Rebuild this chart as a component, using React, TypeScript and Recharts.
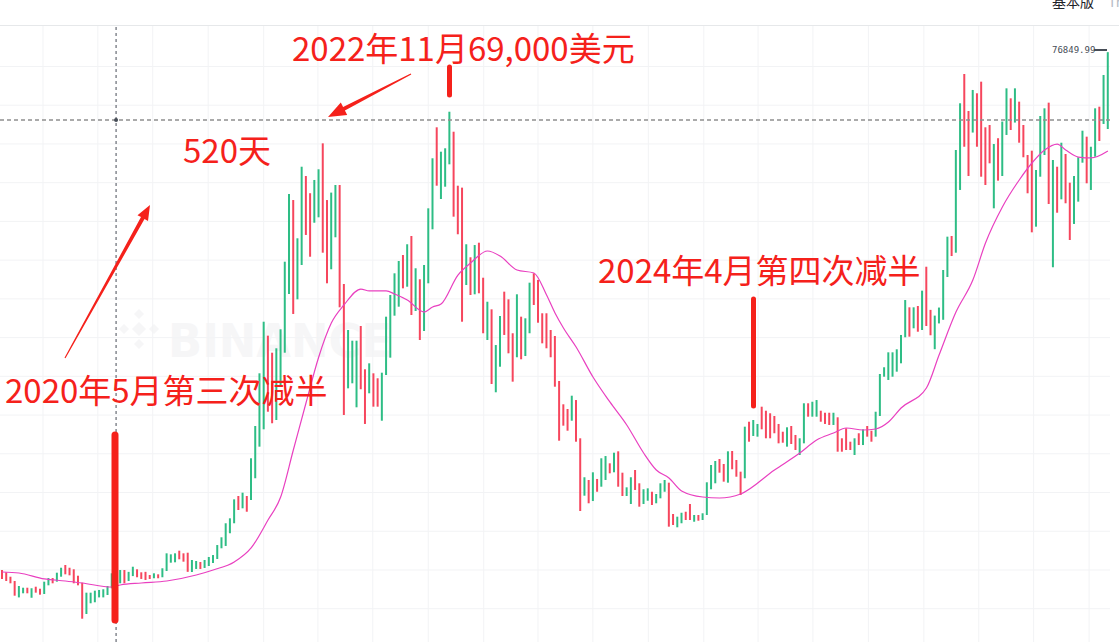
import {
  Bar,
  CartesianGrid,
  Cell,
  ComposedChart,
  Line,
  ReferenceDot,
  ReferenceLine,
  XAxis,
  YAxis,
} from "recharts";

// weekly BTC/USDT candles, first week opens 2019-10-28
const START = Date.UTC(2019, 9, 28);
const WEEK = 7 * 24 * 3600 * 1000;

const opens = [
  10000, 9700, 9130, 8580, 6460, 6990, 7710, 6410, 7840, 7580,
  6900, 8020, 8960, 8490, 9130, 10640, 10290, 10090, 9260, 8360,
  4320, 5700, 5830, 6460, 6460, 6770, 7630, 10000, 8280, 10000,
  8580, 9210, 10090, 9700, 9760, 9350, 8930, 9440, 9060, 9870,
  10940, 10990, 12490, 12150, 12230, 9740, 10130, 11030, 10260, 10510,
  10900, 11420, 12800, 13100, 14740, 16030, 19550, 17960, 19550, 19030,
  21840, 25920, 28160, 40250, 38050, 29360, 33660, 38050, 45630, 57760,
  44940, 49370, 60860, 58640, 54830, 55530, 65080, 57760, 48820, 52950,
  59700, 46920, 33450, 34100, 31000, 41500, 35910, 32810, 35390, 34750,
  29270, 35170, 37410, 42830, 43990, 50660, 46570, 53120, 43430, 47530,
  40850, 47010, 53980, 67150, 57890, 59480, 62370, 66580, 59610, 59360,
  46790, 50370, 45590, 52250, 47730, 39690, 43650, 32940, 36240, 45930,
  44940, 40560, 37460, 42700, 37620, 40560, 48300, 47440, 43140, 43140,
  40980, 40210, 34400, 31390, 30780, 29270, 31940, 27000, 19590, 21620,
  18900, 21750, 20750, 21620, 23770, 22610, 25320, 22560, 19550, 18520,
  22910, 21190, 18520, 18940, 20100, 18610, 19250, 20100, 21270, 17230,
  15510, 16030, 17520, 18520, 16230, 17100, 16450, 17100, 20420, 21190,
  24330, 23680, 21270, 25360, 24200, 22690, 21840, 29140, 27300, 27210,
  31080, 30560, 30230, 29880, 28850, 27850, 25920, 28590, 27430, 24840,
  26350, 31520, 29790, 29790, 30560, 30300, 30300, 28720, 29710, 27000,
  28290, 26560, 24840, 27650, 26130, 28590, 27980, 27210, 29880, 34950,
  34530, 34950, 35600, 36680, 40040, 43910, 41200, 44080, 40980, 49150,
  43580, 38500, 41830, 42300, 47820, 53120, 50960, 59060, 74030, 69250,
  66470, 71540, 73040, 67150, 67450, 56690, 65740, 60860, 66160, 70890,
  67760, 70460, 67450, 63570, 64130, 54320, 60770, 63570, 70330, 49080,
  62060, 57850, 63700, 60000, 54670, 57550, 62580, 65940, 59060, 63350,
  69810, 67580, 66930,
];

const closes = [
  8840, 8580, 8280, 6680, 7930, 7710, 6990, 7630, 7070, 6810,
  8490, 8960, 8280, 9650, 10290, 9440, 9310, 8280, 8020, 3710,
  7070, 7070, 7330, 7420, 7510, 7930, 9570, 8120, 10000, 8280,
  9760, 10420, 9060, 8840, 8710, 8840, 9570, 8930, 10220, 12150,
  12020, 12150, 11380, 11070, 9760, 11290, 11160, 10130, 11290, 11680,
  11930, 13220, 14220, 16030, 16670, 19120, 17740, 19980, 17520, 24420,
  28590, 35390, 42050, 30430, 28940, 38620, 41070, 49800, 58540, 43050,
  52820, 62060, 53250, 50440, 60350, 61730, 50960, 47010, 58720, 59700,
  43910, 30010, 40980, 39600, 39600, 33330, 28850, 36680, 31080, 31080,
  35470, 42700, 45500, 48300, 49890, 46360, 52050, 42920, 48950, 39690,
  49370, 56690, 63150, 59610, 64000, 64440, 69160, 55610, 53340, 42050,
  52050, 45500, 51950, 45720, 40560, 44630, 34010, 39040, 42790, 40340,
  37970, 34310, 45590, 37200, 42490, 47090, 44210, 41920, 39260, 38620,
  37460, 33660, 26690, 28630, 27980, 32500, 26560, 17610, 21970, 18610,
  22610, 20100, 24420, 24710, 22480, 25140, 20750, 19550, 20670, 21970,
  20330, 18170, 20420, 20540, 18390, 19810, 21190, 21620, 15590, 15810,
  16880, 17390, 16450, 16450, 17100, 16360, 17320, 21320, 23550, 24070,
  22560, 21400, 25320, 23000, 22040, 19680, 28500, 26560, 29360, 28850,
  28160, 27000, 27000, 27650, 26350, 26430, 28420, 26260, 25490, 27000,
  31520, 29790, 31720, 31940, 29140, 28850, 28720, 30300, 25270, 25270,
  25490, 25490, 27000, 26130, 28160, 27210, 26560, 30430, 35300, 36170,
  38100, 38100, 38490, 40340, 44850, 40120, 43910, 40760, 46060, 41500,
  40300, 42840, 43880, 48730, 53030, 50530, 64220, 70250, 64640, 60860,
  71970, 64640, 60770, 59700, 62500, 64990, 60260, 67890, 72180, 66800,
  72180, 65160, 63280, 58630, 53590, 61640, 68610, 69600, 57250, 62930,
  56120, 65160, 57340, 52600, 60860, 63280, 66710, 59920, 64640, 69600,
  65380, 73900, 76850,
];

// moving average, read at a handful of weeks
const maWeeks = [
  0, 4, 10, 15, 19, 26, 28, 33, 39, 46, 50, 55, 59, 63, 66, 69, 72, 75, 78, 81,
  85, 87, 91, 93, 96, 100, 102, 104, 108, 111, 115, 118, 122, 126, 129, 131, 133,
  136, 140, 144, 148, 152, 155, 158, 161, 166, 170, 175, 183, 189, 193, 197, 200,
  204, 207, 210, 213, 219, 222, 226, 230, 233, 237, 241, 244, 247, 250, 252, 255,
  258, 262,
];
const maValues = [
  9740, 9610, 8840, 8580, 8320, 7800, 8060, 8320, 8580, 9350, 10000, 11030,
  12840, 16450, 19420, 25490, 31560, 37470, 41880, 44210, 46270, 46020, 46020,
  45630, 44850, 43300, 43950, 44340, 48080, 49630, 51180, 50530, 48730, 48340,
  45500, 43180, 41240, 38790, 34910, 31690, 28720, 25100, 22910, 21880, 20200,
  19420, 19290, 19810, 22910, 25100, 26780, 27680, 28330, 28070, 28200, 29100,
  30910, 33490, 37750, 43300, 47430, 52210, 56860, 60350, 62540, 64220, 64990,
  64220, 63310, 63190, 64090,
];

const gridPrices = [
  5000, 10000, 15000, 20000, 25000, 30000, 35000, 40000, 45000, 50000, 55000,
  60000, 65000, 70000, 75000,
];
const quarterStarts = [
  "2020-01-01", "2020-04-01", "2020-07-01", "2020-10-01",
  "2021-01-01", "2021-04-01", "2021-07-01", "2021-10-01",
  "2022-01-01", "2022-04-01", "2022-07-01", "2022-10-01",
  "2023-01-01", "2023-04-01", "2023-07-01", "2023-10-01",
  "2024-01-01", "2024-04-01", "2024-07-01", "2024-10-01",
];

const crossWeek = 27;
const crossPrice = 68090;
const lastPrice = "76849.99";

const Y_MIN = 702;
const Y_MAX = 80356;
const UP = "#2EBD85";
const DOWN = "#F6465D";
const RED = "#F5211B";
const CJK = '"Noto Sans CJK SC", "Noto Sans", sans-serif';

const weeks = opens.map((_, i) =>
  new Date(START + i * WEEK).toISOString().slice(0, 10)
);

const rows = opens.map((open, i) => ({
  week: weeks[i],
  open,
  close: closes[i],
  ma: null as number | null,
}));
maWeeks.forEach((w, k) => {
  rows[w].ma = maValues[k];
});

function arrowPoints(
  x1: number,
  y1: number,
  x2: number,
  y2: number,
  head = 16,
  half = 7
) {
  const len = Math.hypot(x2 - x1, y2 - y1);
  const ux = (x2 - x1) / len;
  const uy = (y2 - y1) / len;
  const px = -uy;
  const py = ux;
  const bx = x2 - ux * head;
  const by = y2 - uy * head;
  const pts = [
    [x1 + px * 0.6, y1 + py * 0.6],
    [bx + px * 2, by + py * 2],
    [bx + px * half, by + py * half],
    [x2, y2],
    [bx - px * half, by - py * half],
    [bx - px * 2, by - py * 2],
    [x1 - px * 0.6, y1 - py * 0.6],
  ];
  return pts.map((p) => p.map((v) => v.toFixed(1)).join(",")).join(" ");
}

function Watermark() {
  return (
    <svg width={1119} height={642} style={{ position: "absolute", left: 0, top: 0 }}>
      <g fill="#F6F6F7">
        <polygon points="139,322 146,329 139,336 132,329" />
        <polygon points="139,309 144,314 139,319 134,314" />
        <polygon points="139,339 144,344 139,349 134,344" />
        <polygon points="124,324 129,329 124,334 119,329" />
        <polygon points="154,324 159,329 154,334 149,329" />
      </g>
      <text
        x={168}
        y={357}
        fontSize={46}
        fontWeight={700}
        fontFamily="'DejaVu Sans', sans-serif"
        fill="#F6F6F7"
        textLength={224}
        lengthAdjust="spacingAndGlyphs"
      >
        BINANCE
      </text>
    </svg>
  );
}

function Notes() {
  return (
    <svg
      width={1119}
      height={642}
      style={{ position: "absolute", left: 0, top: 0, pointerEvents: "none" }}
    >
      <line x1={0} y1={25.5} x2={1119} y2={25.5} stroke="#E6E8EA" />
      <text x={1052} y={7} fontSize={14} fontFamily={CJK} fill="#1E2329">
        基本版
      </text>
      <text x={1108} y={7} fontSize={14} fontFamily={CJK} fill="#B7BDC6">
        Tr
      </text>

      <text x={1052} y={53} fontSize={9} fontFamily="'DejaVu Sans Mono', monospace" fill="#474D57">
        {lastPrice}
      </text>
      <line x1={1094} y1={50} x2={1107} y2={50} stroke="#474D57" strokeWidth={2} />

      <g fill={RED} fontFamily={CJK} fontSize={33}>
        <text x={292} y={61}>2022年11月69,000美元</text>
        <text x={183} y={163}>520天</text>
        <text x={5} y={403}>2020年5月第三次减半</text>
        <text x={598} y={283}>2024年4月第四次减半</text>
      </g>

      <g stroke={RED} strokeLinecap="round">
        <line x1={115} y1={435} x2={115} y2={620} strokeWidth={7} />
        <line x1={449.5} y1={67} x2={449.5} y2={95} strokeWidth={5} />
        <line x1={753.5} y1={299} x2={753.5} y2={406} strokeWidth={5} />
      </g>
      <polygon points={arrowPoints(65, 358, 150, 205, 15, 6)} fill={RED} />
      <polygon points={arrowPoints(411, 74, 328, 117, 18, 7)} fill={RED} />
    </svg>
  );
}

export default function App() {
  return (
    <div style={{ position: "relative", width: 1119, height: 642, background: "#fff" }}>
      <style>{"body{margin:0}"}</style>
      <Watermark />
      <div style={{ position: "absolute", left: 0, top: 0 }}>
        <ComposedChart
          width={1119}
          height={642}
          data={rows}
          margin={{ top: 25, right: 9, bottom: 0, left: 0 }}
        >
          <CartesianGrid
            stroke="#F2F3F5"
            horizontalCoordinatesGenerator={({ offset }: any) =>
              gridPrices.map(
                (p) => offset.top + (offset.height * (Y_MAX - p)) / (Y_MAX - Y_MIN)
              )
            }
            verticalCoordinatesGenerator={({ offset }: any) =>
              quarterStarts.map(
                (d) =>
                  offset.left +
                  (offset.width * ((Date.parse(d) - START) / WEEK + 0.9)) /
                    opens.length
              )
            }
          />
          <XAxis dataKey="week" type="category" hide />
          <YAxis type="number" domain={[Y_MIN, Y_MAX]} allowDataOverflow hide />
          <ReferenceLine
            y={crossPrice}
            stroke="#8E8E8E"
            strokeWidth={1.5}
            strokeDasharray="4 3"
          />
          <ReferenceLine
            x={weeks[crossWeek]}
            stroke="#474D57"
            strokeDasharray="3 3"
          />
          <Bar
            dataKey={(d: any) => [Math.min(d.open, d.close), Math.max(d.open, d.close)]}
            barSize={2}
            isAnimationActive={false}
          >
            {rows.map((r) => (
              <Cell key={r.week} fill={r.close >= r.open ? UP : DOWN} />
            ))}
          </Bar>
          <Line
            dataKey="ma"
            type="monotone"
            stroke="#E940C0"
            strokeWidth={1.2}
            dot={false}
            connectNulls
            isAnimationActive={false}
          />
          <ReferenceDot
            x={weeks[crossWeek]}
            y={crossPrice}
            r={2}
            fill="#474D57"
            stroke="none"
          />
        </ComposedChart>
      </div>
      <Notes />
    </div>
  );
}
